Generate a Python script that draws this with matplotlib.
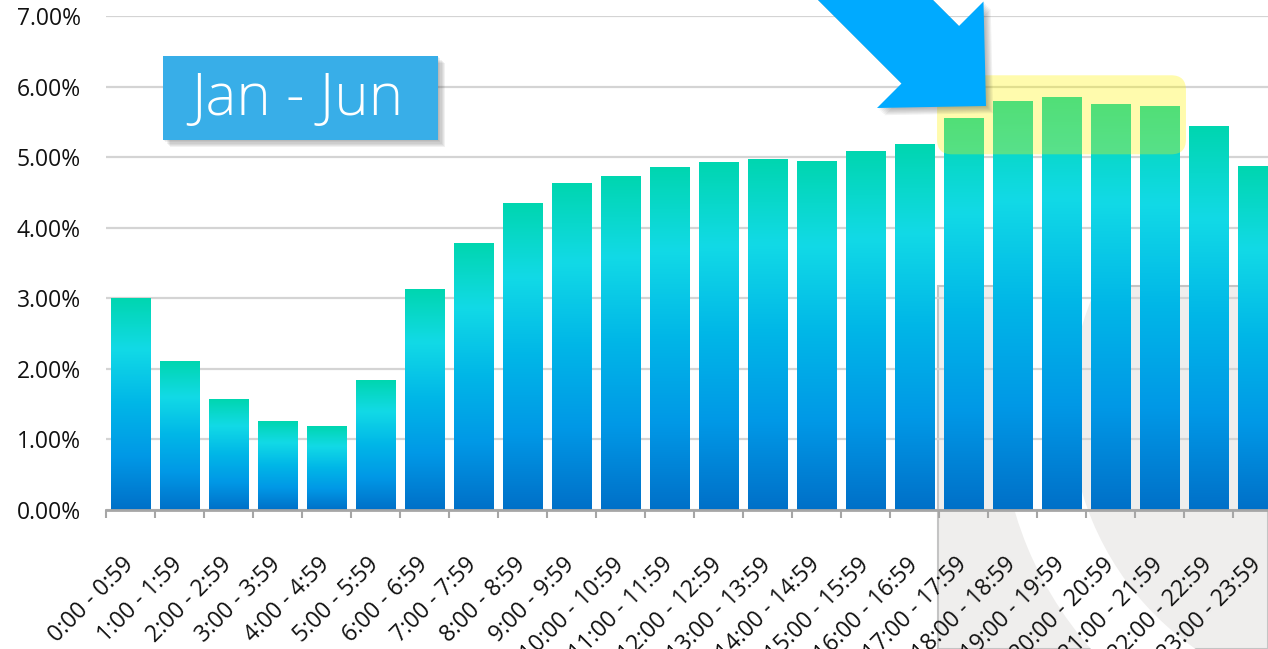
import numpy as np
import matplotlib
matplotlib.use("Agg")
import matplotlib.pyplot as plt
from matplotlib.colors import LinearSegmentedColormap
from matplotlib.patches import Polygon, Rectangle, FancyBboxPatch, Wedge
from matplotlib.transforms import IdentityTransform

plt.rcParams['font.family'] = ['Open Sans', 'DejaVu Sans']

# data
hours = [f"{h}:00 - {h}:59" for h in range(24)]
share = [3.00, 2.11, 1.57, 1.26, 1.18, 1.84, 3.13, 3.77, 4.35, 4.62, 4.73, 4.86,
         4.92, 4.96, 4.94, 5.08, 5.18, 5.55, 5.79, 5.85, 5.74, 5.72, 5.44, 4.87]
y_ticks = [0, 1, 2, 3, 4, 5, 6, 7]
peak_first, peak_last = 17, 21
period_label = "Jan - Jun"

W, H = 1268, 649
fig = plt.figure(figsize=(W / 100, H / 100), dpi=100)
fig.patch.set_facecolor("white")
ident = IdentityTransform()

def px(x, y):
    # pixel coords measured from the top-left corner -> display coords
    return (x, H - y)

def soft_shadow(make_patch, steps=6, dx=2.0, alpha=0.07):
    # stack a few offset, transparent copies to fake a blurred drop shadow
    for k in range(1, steps + 1):
        p = make_patch(k * dx * 0.6, k * dx * 0.6)
        p.set_facecolor("#404040")
        p.set_alpha(alpha)
        p.set_edgecolor("none")
        p.set_zorder(5)
        fig.patches.append(p)

# faint watermark in the lower right
fig.patches.append(Rectangle(px(938, H), W - 938, H - 286, transform=ident,
                             facecolor="#efeeed", edgecolor="#c4c4c4", lw=1.5, zorder=-2))
fig.patches.append(Wedge(px(1362, 409), 362, 0, 360, width=70, transform=ident,
                         facecolor="white", edgecolor="none", zorder=-1))

ax = fig.add_axes([106 / W, 1 - 510 / H, 1176 / W, 494 / H])
ax.set_facecolor("none")

cmap = LinearSegmentedColormap.from_list("bar", [
    (0.0, "#0070c8"), (0.25, "#0098e6"), (0.5, "#00b6e8"),
    (0.76, "#12dae6"), (1.0, "#00d6b0")])
grad = np.linspace(0, 1, 256).reshape(-1, 1)

bw = 0.8
for i, v in enumerate(share):
    ax.imshow(grad, cmap=cmap, origin="lower", aspect="auto",
              extent=(i - bw / 2, i + bw / 2, 0, v), zorder=3, interpolation="bilinear")

ax.set_xlim(-0.5, len(hours) - 0.5)
ax.set_ylim(0, 7)

# highlight of the evening peak
hl = FancyBboxPatch((peak_first - 0.54, 5.04), (peak_last - peak_first) + 1.08, 1.12,
                    boxstyle="round,pad=0,rounding_size=0.3", mutation_aspect=49 / 70.6,
                    facecolor="#fff500", edgecolor="none", alpha=0.32, zorder=4)
ax.add_patch(hl)

ax.set_yticks(y_ticks)
ax.set_yticklabels([f"{t:.2f}%" for t in y_ticks])
ax.yaxis.grid(True, color="#d4d4d4", lw=1.6, zorder=1)
ax.set_axisbelow(True)
ax.tick_params(axis="y", length=0, pad=18, labelsize=16.5, labelcolor="#111111")

ax.set_xticks(range(len(hours)))
ax.set_xticklabels(hours, rotation=45, ha="right", va="center", rotation_mode="anchor")
ax.set_xticks(np.arange(-0.5, len(hours)), minor=True)
ax.tick_params(axis="x", which="major", length=0, pad=37, labelsize=16.5, labelcolor="#111111")
ax.tick_params(axis="x", which="minor", length=6, width=1.5, color="#a6a6a6", direction="out")

for s in ["top", "right", "left"]:
    ax.spines[s].set_visible(False)
ax.spines["bottom"].set_color("#a6a6a6")
ax.spines["bottom"].set_linewidth(2)
ax.spines["bottom"].set_zorder(5)

# period label box
soft_shadow(lambda ox, oy: Rectangle(px(163 + ox, 140 + oy), 275, 84, transform=ident))
fig.patches.append(Rectangle(px(163, 140), 275, 84, transform=ident,
                             facecolor="#38aee8", edgecolor="none", zorder=6))
fig.text(297 / W, 1 - 100 / H, period_label, ha="center", va="center",
         fontsize=42, fontweight="light", color="white", zorder=7)

# arrow pointing at the peak hours
arrow = [(768, -50), (901.5, 83.5), (877, 108), (986, 106), (983.5, 1.5), (959, 26), (883, -50)]
soft_shadow(lambda ox, oy: Polygon([px(x + ox, y + oy) for x, y in arrow], closed=True,
                                   transform=ident))
fig.patches.append(Polygon([px(x, y) for x, y in arrow], closed=True, transform=ident,
                           facecolor="#00aaff", edgecolor="none", zorder=6))

fig.savefig("out.png", dpi=100)
